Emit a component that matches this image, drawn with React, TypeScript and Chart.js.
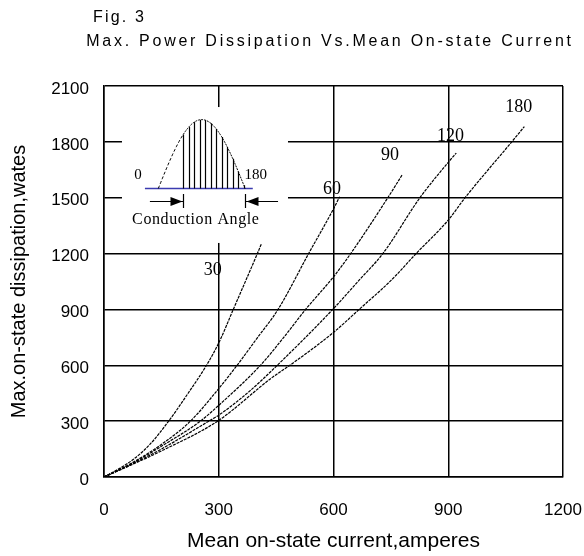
import React, { useEffect, useRef } from "react";
import { Chart, registerables } from "chart.js";

Chart.register(...registerables);

// ---- axis ticks ----
const xTickValues = [0, 300, 600, 900, 1200];
const yTickValues = [0, 300, 600, 900, 1200, 1500, 1800, 2100];

// ---- conduction-angle series (mean current A, dissipation W) ----
const angleLabels = ["30", "60", "90", "120", "180"];

const current30 = [0, 40, 77, 120, 169, 220, 268, 300, 338, 370, 401, 412];
const power30 = [0, 45, 95, 175, 300, 450, 600, 720, 900, 1052, 1200, 1255];

const current60 = [0, 77, 150, 226, 300, 348, 400, 455, 535, 600, 616];
const power60 = [0, 80, 175, 300, 475, 600, 745, 900, 1200, 1440, 1505];

const current90 = [0, 77, 150, 252, 300, 409, 470, 527, 600, 645, 742, 779];
const power90 = [0, 76, 165, 300, 385, 600, 750, 900, 1075, 1200, 1500, 1621];

const current120 = [0, 77, 150, 274, 300, 380, 453, 598, 667, 729, 826, 900, 921];
const power120 = [0, 73, 150, 300, 332, 460, 600, 900, 1057, 1200, 1500, 1690, 1740];

const current180 = [0, 77, 150, 297, 440, 486, 602, 667, 751, 816, 900, 944, 1066, 1099];
const power180 = [0, 70, 140, 300, 535, 600, 780, 900, 1057, 1200, 1380, 1500, 1800, 1882];

// curve-label anchor (in axis units)
const labelCurrent = [284, 596, 748, 906, 1084];
const labelPower = [1110, 1545, 1729, 1830, 1985];

const seriesCurrents = [current30, current60, current90, current120, current180];
const seriesPowers = [power30, power60, power90, power120, power180];

// inset illustration placement (axis units)
const inset = {
  boxX: [47, 481],
  boxY: [1257, 1987],
  baseX: [107, 389],
  baseY: 1551,
  sineX: [142, 369],
  sineAmp: 370,
  fireT: 0.287,
  zeroLabel: [89, 1622],
  endLabel: [397, 1622],
  arrowY: 1484,
  arrowTickY: [1445, 1520],
  leftArrowStart: 120,
  rightArrowEnd: 455,
  captionAt: [240, 1380],
};

const TITLE = "Max. Power Dissipation Vs.Mean On-state Current";
const FIG = "Fig. 3";

const SANS = "'Liberation Sans', Arial, sans-serif";
const SERIF = "'Liberation Serif', 'DejaVu Serif', serif";

const decorPlugin = {
  id: "decor",
  beforeDatasetsDraw(chart: any) {
    const { ctx } = chart;
    const xs = chart.scales.x;
    const ys = chart.scales.y;
    const X = (v: number) => xs.getPixelForValue(v);
    const Y = (v: number) => ys.getPixelForValue(v);
    ctx.save();
    ctx.fillStyle = "#ffffff";
    const x0 = X(inset.boxX[0]);
    const x1 = X(inset.boxX[1]);
    const y0 = Y(inset.boxY[1]);
    const y1 = Y(inset.boxY[0]);
    ctx.fillRect(x0, y0, x1 - x0, y1 - y0);
    ctx.restore();
  },
  afterDatasetsDraw(chart: any) {
    const { ctx } = chart;
    const xs = chart.scales.x;
    const ys = chart.scales.y;
    const X = (v: number) => xs.getPixelForValue(v);
    const Y = (v: number) => ys.getPixelForValue(v);
    ctx.save();
    // curve labels
    ctx.fillStyle = "#000";
    ctx.font = "18px " + SERIF;
    ctx.textAlign = "center";
    ctx.textBaseline = "middle";
    for (let i = 0; i < angleLabels.length; i++) {
      ctx.fillText(angleLabels[i], X(labelCurrent[i]), Y(labelPower[i]));
    }

    // inset: baseline
    const by = Math.round(Y(inset.baseY)) + 0.5;
    ctx.strokeStyle = "#3b3bb0";
    ctx.lineWidth = 1.5;
    ctx.beginPath();
    ctx.moveTo(X(inset.baseX[0]), by);
    ctx.lineTo(X(inset.baseX[1]), by);
    ctx.stroke();

    // inset: half sine
    const sx0 = X(inset.sineX[0]);
    const sx1 = X(inset.sineX[1]);
    const amp = Y(inset.baseY) - Y(inset.baseY + inset.sineAmp);
    const pt = (t: number) => [sx0 + (sx1 - sx0) * t, by - amp * Math.sin(Math.PI * t)];
    ctx.strokeStyle = "#000";
    ctx.lineWidth = 1;
    ctx.setLineDash([3, 2]);
    ctx.beginPath();
    for (let i = 0; i <= 30; i++) {
      const t = (inset.fireT * i) / 30;
      const [px, py] = pt(t);
      if (i === 0) ctx.moveTo(px, py);
      else ctx.lineTo(px, py);
    }
    ctx.stroke();
    ctx.setLineDash([2, 1]);
    ctx.beginPath();
    for (let i = 0; i <= 60; i++) {
      const t = inset.fireT + ((1 - inset.fireT) * i) / 60;
      const [px, py] = pt(t);
      if (i === 0) ctx.moveTo(px, py);
      else ctx.lineTo(px, py);
    }
    ctx.stroke();
    ctx.setLineDash([]);
    // hatch
    ctx.lineWidth = 1.2;
    const nHatch = 12;
    for (let i = 0; i < nHatch; i++) {
      const t = inset.fireT + ((0.985 - inset.fireT) * i) / (nHatch - 1);
      const [px, py] = pt(t);
      const xx = Math.round(px) + 0.5;
      ctx.beginPath();
      ctx.moveTo(xx, by);
      ctx.lineTo(xx, py);
      ctx.stroke();
    }
    // angle labels
    ctx.font = "15px " + SERIF;
    ctx.fillText("0", X(inset.zeroLabel[0]), Y(inset.zeroLabel[1]));
    ctx.fillText("180", X(inset.endLabel[0]), Y(inset.endLabel[1]));

    // arrows
    const ay = Math.round(Y(inset.arrowY)) + 0.5;
    const fx = Math.round(pt(inset.fireT)[0]) + 0.5;
    const ex = Math.round(sx1) + 0.5;
    ctx.lineWidth = 1.2;
    ctx.beginPath();
    ctx.moveTo(X(inset.leftArrowStart), ay);
    ctx.lineTo(fx, ay);
    ctx.moveTo(fx, Y(inset.arrowTickY[1]));
    ctx.lineTo(fx, Y(inset.arrowTickY[0]));
    ctx.moveTo(ex, ay);
    ctx.lineTo(X(inset.rightArrowEnd), ay);
    ctx.moveTo(ex, Y(inset.arrowTickY[1]));
    ctx.lineTo(ex, Y(inset.arrowTickY[0]));
    ctx.stroke();
    ctx.beginPath();
    ctx.moveTo(fx - 1, ay);
    ctx.lineTo(fx - 13, ay - 4.5);
    ctx.lineTo(fx - 13, ay + 4.5);
    ctx.closePath();
    ctx.fill();
    ctx.beginPath();
    ctx.moveTo(ex + 1, ay);
    ctx.lineTo(ex + 13, ay - 4.5);
    ctx.lineTo(ex + 13, ay + 4.5);
    ctx.closePath();
    ctx.fill();

    // caption
    ctx.font = "16px " + SERIF;
    (ctx as any).letterSpacing = "0.6px";
    ctx.fillText("Conduction Angle", X(inset.captionAt[0]), Y(inset.captionAt[1]));
    (ctx as any).letterSpacing = "0px";
    ctx.restore();
  },
  afterDraw(chart: any) {
    const { ctx } = chart;
    ctx.save();
    ctx.fillStyle = "#000";
    ctx.textBaseline = "middle";
    ctx.font = "16px " + SANS;
    (ctx as any).letterSpacing = "2.2px";
    ctx.textAlign = "left";
    ctx.fillText(FIG, 93, 18);
    (ctx as any).letterSpacing = "2.75px";
    ctx.textAlign = "center";
    ctx.fillText(TITLE, 330, 42);
    (ctx as any).letterSpacing = "0px";
    ctx.restore();
  },
};

export default function App() {
  const ref = useRef<HTMLCanvasElement | null>(null);
  useEffect(() => {
    if (!ref.current) return;
    const datasets = angleLabels.map((lab, i) => ({
      label: lab,
      data: seriesCurrents[i].map((c, j) => ({ x: c, y: seriesPowers[i][j] })),
      showLine: true,
      borderColor: "#000",
      borderWidth: 1.2,
      borderDash: [3, 1],
      pointRadius: 0,
      cubicInterpolationMode: "monotone" as const,
      fill: false,
    }));
    const tickFont = { family: SANS, size: 17 };
    const chart = new Chart(ref.current, {
      type: "scatter",
      data: { datasets },
      options: {
        responsive: false,
        animation: false,
        events: [],
        layout: { padding: { top: 86, right: 21, left: 0, bottom: 0 } },
        plugins: {
          legend: { display: false },
          tooltip: { enabled: false },
          title: { display: false },
        },
        scales: {
          x: {
            type: "linear",
            min: 0,
            max: 1200,
            afterBuildTicks: (s: any) => {
              s.ticks = xTickValues.map((v) => ({ value: v }));
            },
            afterFit: (s: any) => {
              s.height = 79;
              s.paddingLeft = 0;
              s.paddingRight = 0;
            },
            ticks: {
              color: "#000",
              font: tickFont,
              padding: 23,
              maxRotation: 0,
              callback: (v: any) => String(v),
            },
            grid: { color: "#000", lineWidth: 1.5, drawTicks: false },
            border: { display: true, color: "#000", width: 1.5 },
            title: {
              display: true,
              text: "Mean on-state current,amperes",
              color: "#000",
              font: { family: SANS, size: 21 },
              padding: { top: 0, bottom: 2 },
            },
          },
          y: {
            type: "linear",
            min: 0,
            max: 2100,
            afterBuildTicks: (s: any) => {
              s.ticks = yTickValues.map((v) => ({ value: v }));
            },
            afterFit: (s: any) => {
              s.width = 104;
              s.paddingTop = 0;
              s.paddingBottom = 0;
            },
            ticks: {
              color: "#000",
              font: tickFont,
              padding: 15,
              labelOffset: 3,
              callback: (v: any) => String(v),
            },
            grid: { color: "#000", lineWidth: 1.5, drawTicks: false },
            border: { display: true, color: "#000", width: 1.5 },
            title: {
              display: true,
              text: "Max.on-state dissipation,wates",
              color: "#000",
              font: { family: SANS, size: 20 },
              padding: { top: 7, bottom: 0 },
            },
          },
        },
      },
      plugins: [decorPlugin],
    });
    return () => chart.destroy();
  }, []);
  return (
    <div style={{ position: "absolute", left: 0, top: 0, width: 584, height: 556, background: "#fff" }}>
      <canvas ref={ref} width={584} height={556} />
    </div>
  );
}
